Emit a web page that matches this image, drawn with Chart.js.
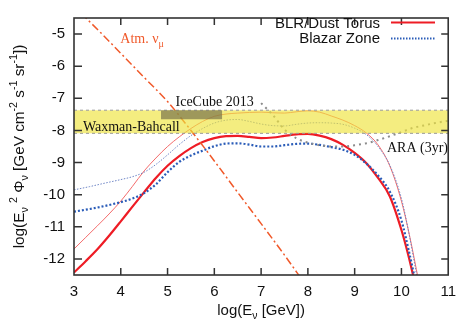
<!DOCTYPE html>
<html>
<head>
<meta charset="utf-8">
<script src="https://cdn.jsdelivr.net/npm/chart.js@4.4.0/dist/chart.umd.min.js"></script>
<style>
  html, body { margin: 0; padding: 0; background: #fff; }
  #wrap { width: 464px; height: 321px; }
</style>
</head>
<body>
<div id="wrap"><canvas id="c" width="464" height="321"></canvas></div>
<script>
// axes
const X_MIN = 3, X_MAX = 11;
const Y_MIN = -12.5, Y_MAX = -4.5;
const X_TICKS = [3, 4, 5, 6, 7, 8, 9, 10, 11];
const Y_TICKS = [-12, -11, -10, -9, -8, -7, -6, -5];

// BLR / dust torus, thick and thin
const BLR_X = [3.0, 3.25, 3.5, 3.75, 4.0, 4.25, 4.5, 4.75, 5.0, 5.25, 5.5, 5.75, 6.0, 6.25, 6.5, 6.75, 7.0, 7.25, 7.5, 7.75, 8.0, 8.25, 8.5, 8.75, 9.0, 9.25, 9.5, 9.75, 10.0, 10.15, 10.28];
const BLR_Y = [-12.42, -12.07, -11.7, -11.28, -10.83, -10.37, -9.92, -9.48, -9.1, -8.8, -8.55, -8.36, -8.24, -8.18, -8.17, -8.2, -8.24, -8.22, -8.17, -8.12, -8.11, -8.16, -8.27, -8.45, -8.7, -9.02, -9.48, -10.05, -11.1, -11.9, -12.7];
const BLR_THIN_X = [3.0, 3.25, 3.5, 3.75, 4.0, 4.25, 4.5, 4.75, 5.0, 5.25, 5.5, 5.75, 6.0, 6.25, 6.5, 6.75, 7.0, 7.25, 7.5, 7.75, 8.0, 8.25, 8.5, 8.75, 9.0, 9.25, 9.5, 9.75, 10.0, 10.17, 10.37];
const BLR_THIN_Y = [-11.69, -11.33, -10.97, -10.6, -10.2, -9.74, -9.26, -8.86, -8.5, -8.2, -7.94, -7.72, -7.56, -7.49, -7.46, -7.44, -7.43, -7.45, -7.46, -7.42, -7.39, -7.43, -7.55, -7.68, -7.85, -8.08, -8.45, -9.1, -10.2, -11.25, -12.7];

// blazar zone, thick and thin
const BLZ_X = [3.0, 3.5, 3.87, 4.25, 4.5, 4.75, 5.0, 5.25, 5.5, 5.75, 6.0, 6.25, 6.5, 6.75, 7.0, 7.25, 7.5, 7.75, 8.0, 8.25, 8.5, 8.75, 9.0, 9.25, 9.5, 9.75, 10.0, 10.15, 10.3];
const BLZ_Y = [-10.53, -10.4, -10.28, -10.12, -9.95, -9.68, -9.3, -8.98, -8.78, -8.63, -8.49, -8.41, -8.4, -8.44, -8.5, -8.5, -8.46, -8.42, -8.41, -8.45, -8.52, -8.6, -8.76, -9.03, -9.4, -9.9, -10.8, -11.7, -12.7];
const BLZ_THIN_X = [3.0, 3.33, 3.66, 4.0, 4.25, 4.5, 4.75, 5.0, 5.25, 5.5, 5.75, 6.0, 6.25, 6.5, 6.75, 7.0, 7.25, 7.5, 7.75, 8.0, 8.25, 8.5, 8.75, 9.0, 9.25, 9.5, 9.75, 10.0, 10.16, 10.35];
const BLZ_THIN_Y = [-9.85, -9.75, -9.64, -9.53, -9.44, -9.3, -9.06, -8.76, -8.44, -8.16, -7.94, -7.77, -7.68, -7.66, -7.72, -7.8, -7.85, -7.86, -7.81, -7.77, -7.76, -7.77, -7.81, -7.93, -8.13, -8.5, -9.08, -10.12, -11.2, -12.7];

// atmospheric nu_mu
const ATM_X = [3.15, 3.6, 4.0, 4.5, 5.0, 5.5, 6.0, 6.5, 7.0, 7.5, 7.9];
const ATM_Y = [-4.35, -5.0, -5.6, -6.35, -7.1, -8.0, -8.95, -9.93, -10.9, -11.88, -12.7];

// ARA (3yr) sensitivity
const ARA_X = [7.0, 7.25, 7.5, 7.75, 8.0, 8.25, 8.5, 8.75, 9.0, 9.25, 9.5, 9.75, 10.0, 10.25, 10.5, 10.75, 11.0];
const ARA_Y = [-7.15, -7.52, -7.97, -8.24, -8.38, -8.46, -8.5, -8.5, -8.46, -8.4, -8.3, -8.18, -8.05, -7.92, -7.84, -7.76, -7.7];

// Waxman-Bahcall band and IceCube 2013 box
const WB_X = [3, 11];
const WB_HI = [-7.37, -7.37];
const WB_LO = [-8.09, -8.09];
const IC_X = [4.86, 6.17];
const IC_HI = [-7.37, -7.37];
const IC_LO = [-7.65, -7.65];

const SANS = '"Liberation Sans", Arial, sans-serif';
const SERIF = '"Liberation Serif", "Times New Roman", serif';

function pts(xs, ys) {
    return xs.map((x, i) => ({ x, y: ys[i] }));
}

function curve(data, color, width, dash) {
    return {
        data, borderColor: color, borderWidth: width, borderDash: dash || [],
        pointRadius: 0, fill: false, cubicInterpolationMode: 'monotone', borderCapStyle: 'butt'
    };
}

// text with sub/superscripts: parts = [[text, ''|'sub'|'sup'], ...]
function richWidth(ctx, parts, size) {
    let w = 0;
    parts.forEach(([t, k]) => {
        ctx.font = (k ? size * 0.7 : size) + 'px ' + SANS;
        w += ctx.measureText(t).width;
    });
    return w;
}
function richText(ctx, parts, x, y, size, font) {
    let cx = x;
    parts.forEach(([t, k]) => {
        ctx.font = (k ? size * 0.7 : size) + 'px ' + (font || SANS);
        const dy = k === 'sub' ? size * 0.28 : k === 'sup' ? -size * 0.4 : 0;
        ctx.fillText(t, cx, y + dy);
        cx += ctx.measureText(t).width;
    });
}

const overlay = {
    id: 'overlay',
    afterDraw(chart) {
        const { ctx, chartArea: a, scales: { x, y } } = chart;
        ctx.save();

        // frame and inward ticks on all sides
        ctx.strokeStyle = '#333';
        ctx.lineWidth = 1.5;
        ctx.beginPath();
        X_TICKS.forEach(v => {
            if (v <= X_MIN || v >= X_MAX) return;
            const px = x.getPixelForValue(v);
            ctx.moveTo(px, a.bottom); ctx.lineTo(px, a.bottom - 7);
            ctx.moveTo(px, a.top); ctx.lineTo(px, a.top + 7);
        });
        Y_TICKS.forEach(v => {
            const py = y.getPixelForValue(v);
            ctx.moveTo(a.left, py); ctx.lineTo(a.left + 8, py);
            ctx.moveTo(a.right, py); ctx.lineTo(a.right - 7, py);
        });
        ctx.stroke();
        ctx.lineWidth = 1.6;
        ctx.strokeRect(a.left, a.top, a.right - a.left, a.bottom - a.top);

        // annotations
        ctx.textAlign = 'left';
        ctx.textBaseline = 'alphabetic';
        ctx.fillStyle = '#f0592a';
        richText(ctx, [['Atm. ν', ''], ['μ', 'sub']], x.getPixelForValue(3.99), y.getPixelForValue(-5.28), 14, SERIF);
        ctx.fillStyle = '#111';
        ctx.font = '14px ' + SERIF;
        ctx.fillText('IceCube 2013', x.getPixelForValue(5.17), y.getPixelForValue(-7.25));
        ctx.fillText('Waxman-Bahcall', x.getPixelForValue(3.19), y.getPixelForValue(-8.02));
        ctx.fillText('ARA (3yr)', x.getPixelForValue(9.69), y.getPixelForValue(-8.67));

        // legend
        ctx.fillStyle = '#111';
        ctx.font = '15px ' + SANS;
        ctx.textAlign = 'right';
        ctx.fillText('BLR/Dust Torus', 380, 28);
        ctx.fillText('Blazar Zone', 380, 43);
        ctx.lineCap = 'butt';
        ctx.strokeStyle = '#ee1c25';
        ctx.lineWidth = 2;
        ctx.beginPath(); ctx.moveTo(391, 22.5); ctx.lineTo(435, 22.5); ctx.stroke();
        ctx.strokeStyle = '#2a5cb8';
        ctx.setLineDash([1.5, 1.5]);
        ctx.lineWidth = 2;
        ctx.beginPath(); ctx.moveTo(391, 38.5); ctx.lineTo(435, 38.5); ctx.stroke();
        ctx.setLineDash([]);

        // axis titles
        ctx.textAlign = 'left';
        ctx.fillStyle = '#111';
        const xt = [['log(E', ''], ['ν', 'sub'], [' [GeV])', '']];
        const cx = (a.left + a.right) / 2;
        richText(ctx, xt, cx - richWidth(ctx, xt, 15) / 2, 315, 15);

        const yt = [['log(E', ''], ['ν', 'sub'], [' ', ''], ['2', 'sup'], [' Φ', ''], ['ν', 'sub'],
            [' [GeV cm', ''], ['-2', 'sup'], [' s', ''], ['-1', 'sup'], [' sr', ''], ['-1', 'sup'], ['])', '']];
        ctx.translate(23.5, (a.top + a.bottom) / 2);
        ctx.rotate(-Math.PI / 2);
        richText(ctx, yt, -richWidth(ctx, yt, 15.3) / 2, 0, 15.3);
        ctx.restore();
    }
};

const datasets = [
    { data: pts(IC_X, IC_HI), borderWidth: 0, pointRadius: 0, fill: false },
    { data: pts(IC_X, IC_LO), borderWidth: 0, pointRadius: 0, fill: '-1', backgroundColor: 'rgba(105,100,70,0.62)' },
    { data: pts(WB_X, WB_HI), borderColor: '#999', borderWidth: 1, borderDash: [3, 3], pointRadius: 0, fill: false },
    { data: pts(WB_X, WB_LO), borderColor: '#999', borderWidth: 1, borderDash: [3, 3], pointRadius: 0, fill: '-1', backgroundColor: 'rgba(238,228,60,0.65)' },
    curve(pts(ATM_X, ATM_Y), '#f0592a', 1.5, [8, 3, 2, 3]),
    curve(pts(ARA_X, ARA_Y), '#8c8c8c', 2, [2, 4]),
    curve(pts(BLZ_X, BLZ_Y), '#2a5cb8', 2.2, [2, 2]),
    curve(pts(BLR_X, BLR_Y), '#ee1c25', 2.2),
    curve(pts(BLZ_THIN_X, BLZ_THIN_Y), '#6f86c6', 1, [1.5, 1.5]),
    curve(pts(BLR_THIN_X, BLR_THIN_Y), '#f25a5a', 0.9)
];

new Chart(document.getElementById('c'), {
    type: 'line',
    data: { datasets },
    options: {
        responsive: false,
        animation: false,
        layout: { padding: { top: 7, right: 11, left: 0, bottom: 0 } },
        plugins: { legend: { display: false }, tooltip: { enabled: false } },
        scales: {
            x: {
                type: 'linear', min: X_MIN, max: X_MAX,
                afterBuildTicks: s => { s.ticks = X_TICKS.map(v => ({ value: v })); },
                afterFit: s => { s.height = 46; },
                grid: { display: false, drawTicks: false },
                border: { display: false },
                ticks: { color: '#111', font: { family: SANS, size: 15 }, padding: 8, maxRotation: 0 }
            },
            y: {
                type: 'linear', min: Y_MIN, max: Y_MAX,
                afterBuildTicks: s => { s.ticks = Y_TICKS.map(v => ({ value: v })); },
                afterFit: s => { s.width = 74; },
                grid: { display: false, drawTicks: false },
                border: { display: false },
                ticks: { color: '#111', font: { family: SANS, size: 15 }, padding: 9 }
            }
        }
    },
    plugins: [overlay]
});
</script>
</body>
</html>
